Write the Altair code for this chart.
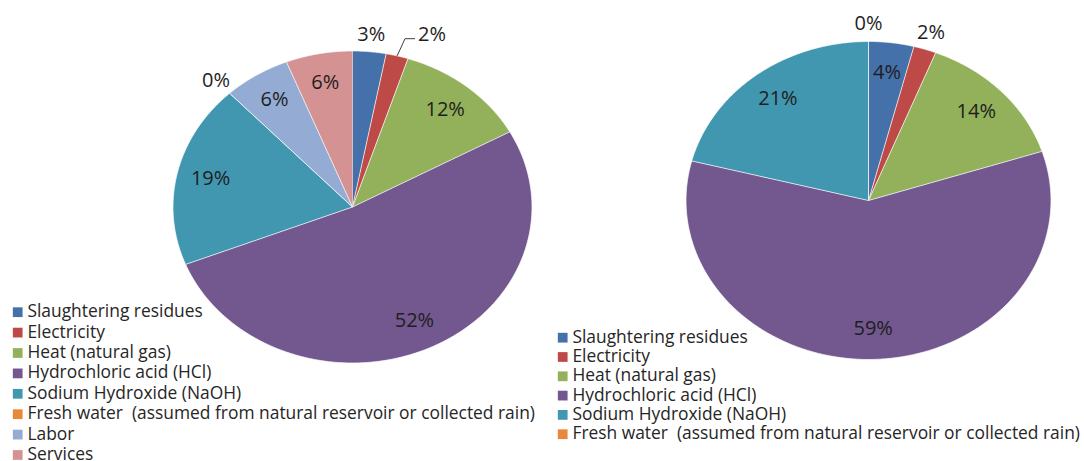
import altair as alt
import pandas as pd

# Cost contributions (percent) for the two process variants
ITEMS_LEFT = [
    "Slaughtering residues",
    "Electricity",
    "Heat (natural gas)",
    "Hydrochloric acid (HCl)",
    "Sodium Hydroxide (NaOH)",
    "Fresh water\u00a0 (assumed from natural reservoir or collected rain)",
    "Labor",
    "Services",
]
SHARE_LEFT = [3, 2, 12, 52, 19, 0, 6, 6]

ITEMS_RIGHT = ITEMS_LEFT[:6]
SHARE_RIGHT = [4, 2, 14, 59, 21, 0]

COLORS = ["#4471a9", "#bd4a47", "#93b05a", "#72588e", "#4197af", "#e8883a", "#94abd4", "#d49292"]

FONT = "Open Sans"
W, H = 1084, 461
STEPS = 120

xscale = alt.Scale(domain=[0, W], nice=False, zero=False)
yscale = alt.Scale(domain=[0, H], nice=False, zero=False, reverse=True)


def pie(items, shares, cx, cy, rx, ry, legend_x, legend_y, row_pad):
    df = pd.DataFrame({"item": items, "share": shares, "k": list(range(len(items)))})
    base = (
        alt.Chart(df)
        .transform_window(cum="sum(share)", sort=[alt.SortField("k")])
        .transform_window(prev="lag(share)", sort=[alt.SortField("k")])
        .transform_joinaggregate(total="sum(share)")
        .transform_calculate(
            a0="2 * PI * (datum.cum - datum.share) / datum.total",
            a1="2 * PI * datum.cum / datum.total",
            mid="PI * (2 * datum.cum - datum.share) / datum.total",
            outside="datum.share < 3.5",
            # a small slice right after another small one gets its label pushed aside
            pushed="datum.share < 3.5 && datum.prev != null && datum.prev < 3.5",
        )
    )

    # each slice is a filled polygon: centre point followed by points along its arc
    wedges = (
        base.transform_calculate(step=f"sequence(0, {STEPS + 2})")
        .transform_flatten(["step"])
        .transform_calculate(
            ang=f"datum.a0 + (datum.a1 - datum.a0) * (datum.step - 1) / {STEPS}",
            px=f"datum.step == 0 ? {cx} : {cx} + {rx} * sin(datum.ang)",
            py=f"datum.step == 0 ? {cy} : {cy} - {ry} * cos(datum.ang)",
        )
        .mark_line(filled=True, stroke="white", strokeWidth=0.7, strokeJoin="round")
        .encode(
            x=alt.X("px:Q", scale=xscale, axis=None),
            y=alt.Y("py:Q", scale=yscale, axis=None),
            color=alt.Color(
                "item:N",
                title=None,
                sort=items,
                scale=alt.Scale(domain=items, range=COLORS[: len(items)]),
                legend=alt.Legend(
                    orient="none",
                    legendX=legend_x,
                    legendY=legend_y,
                    symbolType="square",
                    symbolSize=95,
                    symbolStrokeWidth=0,
                    labelFont=FONT,
                    labelFontSize=17.4,
                    labelColor="#262626",
                    labelOffset=1,
                    labelLimit=700,
                    rowPadding=row_pad,
                    padding=0,
                ),
            ),
            order=alt.Order("step:Q"),
            detail="item:N",
        )
    )

    placed = base.transform_calculate(
        la="datum.pushed ? datum.mid + 0.13 : datum.mid",
        lr="datum.pushed ? 1.19 : (datum.outside ? 1.11 : 0.81)",
        lx=f"{cx} + {rx} * datum.lr * sin(datum.la)",
        ly=f"{cy} - {ry} * datum.lr * cos(datum.la)",
        ex=f"{cx} + {rx} * sin(datum.mid)",
        ey=f"{cy} - {ry} * cos(datum.mid)",
        txt="format(datum.share / datum.total, '.0%')",
    )

    labels = placed.mark_text(font=FONT, fontSize=20, color="#1e1e1e").encode(
        x=alt.X("lx:Q", scale=xscale, axis=None),
        y=alt.Y("ly:Q", scale=yscale, axis=None),
        text="txt:N",
    )

    # leader line for a pushed label: rim -> elbow -> beside the text
    leaders = placed.transform_filter("datum.pushed").transform_calculate(
        bx="datum.lx - 27", by="datum.ly + 4", tx="datum.lx - 17"
    )
    lead1 = leaders.mark_rule(color="#404040", strokeWidth=1).encode(
        x=alt.X("ex:Q", scale=xscale, axis=None),
        y=alt.Y("ey:Q", scale=yscale, axis=None),
        x2="bx:Q",
        y2="by:Q",
    )
    lead2 = leaders.mark_rule(color="#404040", strokeWidth=1).encode(
        x=alt.X("bx:Q", scale=xscale, axis=None),
        y=alt.Y("by:Q", scale=yscale, axis=None),
        x2="tx:Q",
    )
    return [wedges, lead1, lead2, labels]


left = pie(ITEMS_LEFT, SHARE_LEFT, 352.5, 207, 179.5, 156, 9, 303.5, 1.4)
right = pie(ITEMS_RIGHT, SHARE_RIGHT, 868.5, 200.5, 182.5, 159, 554, 329, 0.3)

chart = (
    alt.layer(*left, *right)
    .resolve_scale(color="independent")
    .properties(
        width=W,
        height=H,
        padding=0,
        autosize=alt.AutoSizeParams(type="none"),
        background="white",
    )
    .configure_view(stroke=None)
    .configure_text(font=FONT)
)

chart.save("out.html", embed_options={"renderer": "svg", "actions": False})
